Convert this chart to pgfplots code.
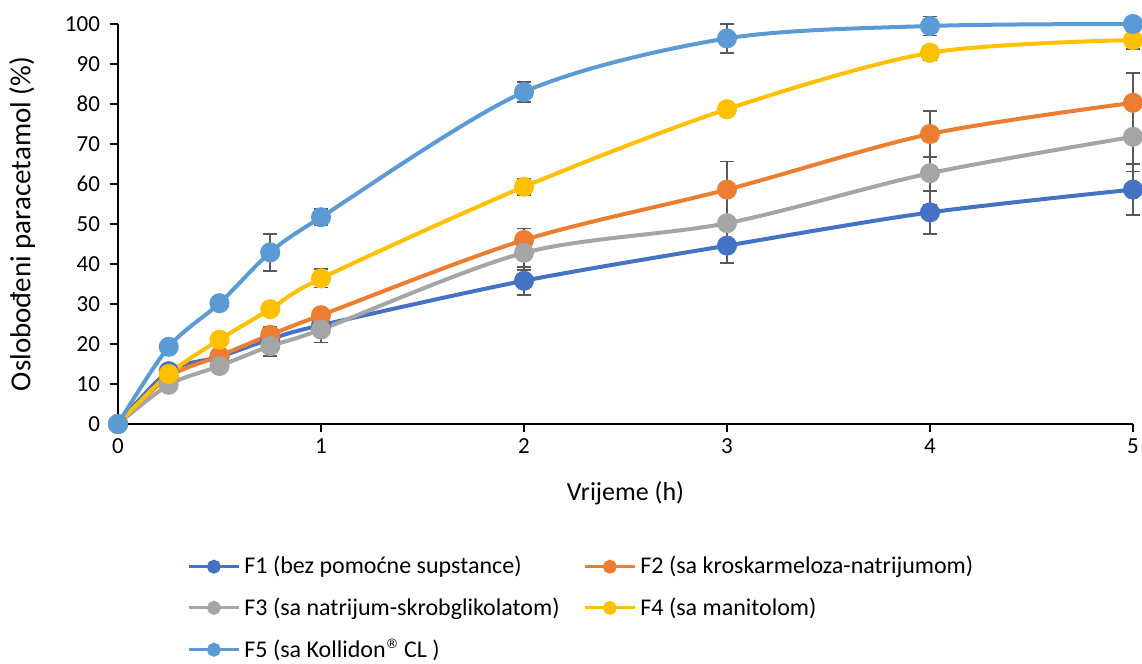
\documentclass[border=0pt]{standalone}
\usepackage{pgfplots}
\pgfplotsset{compat=1.18}
\usepackage{pgfplotstable}
\usepackage{fontspec}
\setmainfont{Carlito}
\newfontfamily\symfont{DejaVu Sans}

\definecolor{cF1}{HTML}{4472C4}
\definecolor{cF2}{HTML}{ED7D31}
\definecolor{cF3}{HTML}{A5A5A5}
\definecolor{cF4}{HTML}{FFC000}
\definecolor{cF5}{HTML}{5B9BD5}
\definecolor{errc}{HTML}{595959}

% time (h), mean release (%), standard deviation
\pgfplotstableread{
t    y     e
0    0     0
0.25 13.2  0.5
0.5  16.8  0.8
0.75 21.2  1.5
1    24.7  1.2
2    35.8  3.5
3    44.6  4.3
4    52.9  5.4
5    58.6  6.4
}\fone
\pgfplotstableread{
t    y     e
0    0     0
0.25 11.8  0.5
0.5  17.0  0.8
0.75 22.3  2.0
1    27.2  1.7
2    46.0  2.9
3    58.6  7.0
4    72.5  5.8
5    80.3  7.4
}\ftwo
\pgfplotstableread{
t    y     e
0    0     0
0.25 9.8   0.8
0.5  14.5  0.8
0.75 19.5  2.5
1    23.6  3.2
2    42.8  4.3
3    50.2  1.0
4    62.7  7.9
5    71.8  8.7
}\fthree
\pgfplotstableread{
t    y     e
0    0     0
0.25 12.5  0.5
0.5  21.1  0.8
0.75 28.7  1.0
1    36.4  2.3
2    59.3  2.0
3    78.7  0.6
4    92.8  1.8
5    96.0  2.3
}\ffour
\pgfplotstableread{
t    y     e
0    0     0
0.25 19.3  0.5
0.5  30.2  0.8
0.75 42.9  4.6
1    51.7  2.0
2    83.0  2.5
3    96.4  3.6
4    99.5  2.4
5    100.0 0
}\ffive

\newcommand{\regmark}{\raisebox{0.4em}{\symfont\fontsize{6.5}{7}\selectfont ®}}

\begin{document}
\begin{tikzpicture}
\path[use as bounding box] (0,0) rectangle (571pt,332pt);
\begin{axis}[
  at={(59pt,120pt)}, anchor=south west,
  scale only axis, width=507.5pt, height=200pt,
  xmin=0, xmax=5, ymin=0, ymax=100,
  xtick={0,1,2,3,4,5}, ytick={0,10,...,100},
  axis x line*=bottom, axis y line*=left,
  axis line style={line width=0.9pt, black, -},
  tick style={line width=0.9pt, black},
  tick align=outside, major tick length=4pt,
  clip=false,
  tick label style={font=\fontsize{11.5}{13}\selectfont},
  yticklabel style={xshift=-1.5pt},
  /pgf/number format/assume math mode=true,
  xlabel={Vrijeme (h)}, ylabel={Oslobođeni paracetamol (\%)},
  xlabel style={font=\fontsize{13}{15}\selectfont, at={(axis description cs:0.5,0)}, anchor=center, yshift=-34.5pt},
  ylabel style={font=\fontsize{14.5}{16}\selectfont, at={(axis description cs:0,0.5)}, anchor=center, yshift=48pt},
  every axis plot/.append style={line width=2pt, smooth, tension=0.5},
  error bars/error bar style={line width=0.8pt, errc, solid},
  error bars/error mark options={rotate=90, mark size=3.5pt, line width=0.8pt, errc},
  legend columns=2,
  legend cell align=left,
  legend style={at={(axis description cs:0.068,-0.32)}, anchor=north west,
    draw=none, fill=none, font=\fontsize{12}{14}\selectfont,
    row sep=6.3pt, inner sep=0pt},
  legend image code/.code={
    \draw[line width=1.5pt, mark repeat=2, mark phase=2, mark options={scale=0.68}]
      plot coordinates {(0pt,0pt) (12.5pt,0pt) (25pt,0pt)};},
]
\addplot[cF1, mark=*, mark size=4pt, mark options={fill=cF1, draw=cF1},
  error bars/.cd, y dir=both, y explicit] table[x=t, y=y, y error=e] {\fone};
\addlegendentry{\makebox[167.5pt][l]{F1 (bez pomoćne supstance)}}
\addplot[cF2, mark=*, mark size=4pt, mark options={fill=cF2, draw=cF2},
  error bars/.cd, y dir=both, y explicit] table[x=t, y=y, y error=e] {\ftwo};
\addlegendentry{F2 (sa kroskarmeloza-natrijumom)}
\addplot[cF3, mark=*, mark size=4pt, mark options={fill=cF3, draw=cF3},
  error bars/.cd, y dir=both, y explicit] table[x=t, y=y, y error=e] {\fthree};
\addlegendentry{\makebox[167.5pt][l]{F3 (sa natrijum-skrobglikolatom)}}
\addplot[cF4, mark=*, mark size=4pt, mark options={fill=cF4, draw=cF4},
  error bars/.cd, y dir=both, y explicit] table[x=t, y=y, y error=e] {\ffour};
\addlegendentry{F4 (sa manitolom)}
\addplot[cF5, mark=*, mark size=4pt, mark options={fill=cF5, draw=cF5},
  error bars/.cd, y dir=both, y explicit] table[x=t, y=y, y error=e] {\ffive};
\addlegendentry{\makebox[167.5pt][l]{F5 (sa Kollidon\regmark{} CL )}}
\end{axis}
\end{tikzpicture}
\end{document}
